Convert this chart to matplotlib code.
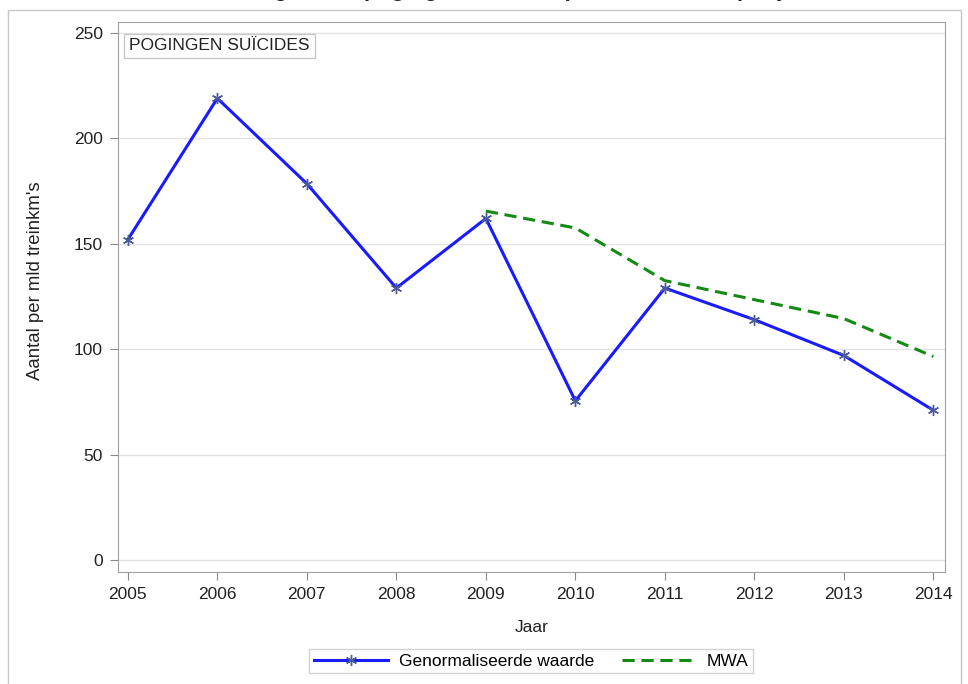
import matplotlib
matplotlib.use('Agg')

import matplotlib.pyplot as plt
from matplotlib.patches import Rectangle

plt.rcParams['font.family'] = ['Liberation Sans', 'DejaVu Sans']

# Jaarcijfers
jaren = [2005, 2006, 2007, 2008, 2009, 2010, 2011, 2012, 2013, 2014]
genormaliseerd = [152, 219, 178.5, 129, 162, 75.5, 129, 114, 97, 71]
mwa_jaren = [2009, 2010, 2011, 2012, 2013, 2014]
mwa = [165.5, 157.5, 132.5, 123.5, 114.5, 96.5]
y_ticks = [0, 50, 100, 150, 200, 250]

W, H = 968, 684
FS = 12.5
fig = plt.figure(figsize=(W / 100, H / 100), dpi=100)
ax = fig.add_axes([118 / W, 1 - 572 / H, (945 - 118) / W, (572 - 22) / H])

# rand rond de hele grafiek
fig.patches.append(Rectangle((8 / W, -0.05), (961 - 8) / W, 1.05 - 10 / H,
                             transform=fig.transFigure, fill=False,
                             edgecolor='#c8c8c8', linewidth=1))

# titel valt grotendeels buiten beeld
fig.text(0.5, 1 + 4 / H, "Ontwikkeling aantal pogingen suïcides per mld treinkm per jaar",
         ha='center', va='baseline', fontsize=16, fontweight='bold', color='#222222')

ax.plot(jaren, genormaliseerd, color='#1a1aff', linewidth=2.2,
        marker=(6, 2, 0), markersize=8, markeredgecolor='#4a5a9a',
        markeredgewidth=1.0, label='Genormaliseerde waarde', zorder=3)
ax.plot(mwa_jaren, mwa, color='#138a13', linewidth=2.2, linestyle=(0, (4, 2.2)),
        label='MWA', zorder=2)

ax.set_xlim(2004.89, 2014.13)
ax.set_ylim(-5.7, 255.2)
ax.set_xticks(jaren)
ax.set_yticks(y_ticks)
ax.tick_params(direction='out', length=6, color='#888888', labelsize=FS,
               labelcolor='#222222', pad=5)
ax.yaxis.grid(True, color='#e3e3e3', linewidth=1)
ax.set_axisbelow(True)
for s in ax.spines.values():
    s.set_color('#a0a0a0')

ax.set_xlabel('Jaar', fontsize=FS, color='#222222')
ax.set_ylabel("Aantal per mld treinkm's", fontsize=13.4, color='#222222')
ax.xaxis.set_label_coords(0.5, -(627 - 572) / 550, transform=ax.transAxes)
ax.yaxis.set_label_coords(-(118 - 35) / 827, (572 - 281) / 550, transform=ax.transAxes)
ax.xaxis.label.set_va('center')
ax.yaxis.label.set_va('center')

ax.text(0.0135, 0.97, 'POGINGEN SUÏCIDES', transform=ax.transAxes,
        ha='left', va='top', fontsize=FS, color='#222222',
        bbox=dict(boxstyle='square,pad=0.28', facecolor='white', edgecolor='#c8c8c8'))

leg = fig.legend(loc='center', bbox_to_anchor=(531 / W, 1 - 661 / H), ncol=2,
                 frameon=True, fancybox=False, fontsize=FS, handlelength=4.3,
                 columnspacing=1.6, borderpad=0.25, handletextpad=0.6)
leg.get_frame().set_edgecolor('#c8c8c8')
leg.get_frame().set_linewidth(1)

fig.savefig('out.png', dpi=100)
